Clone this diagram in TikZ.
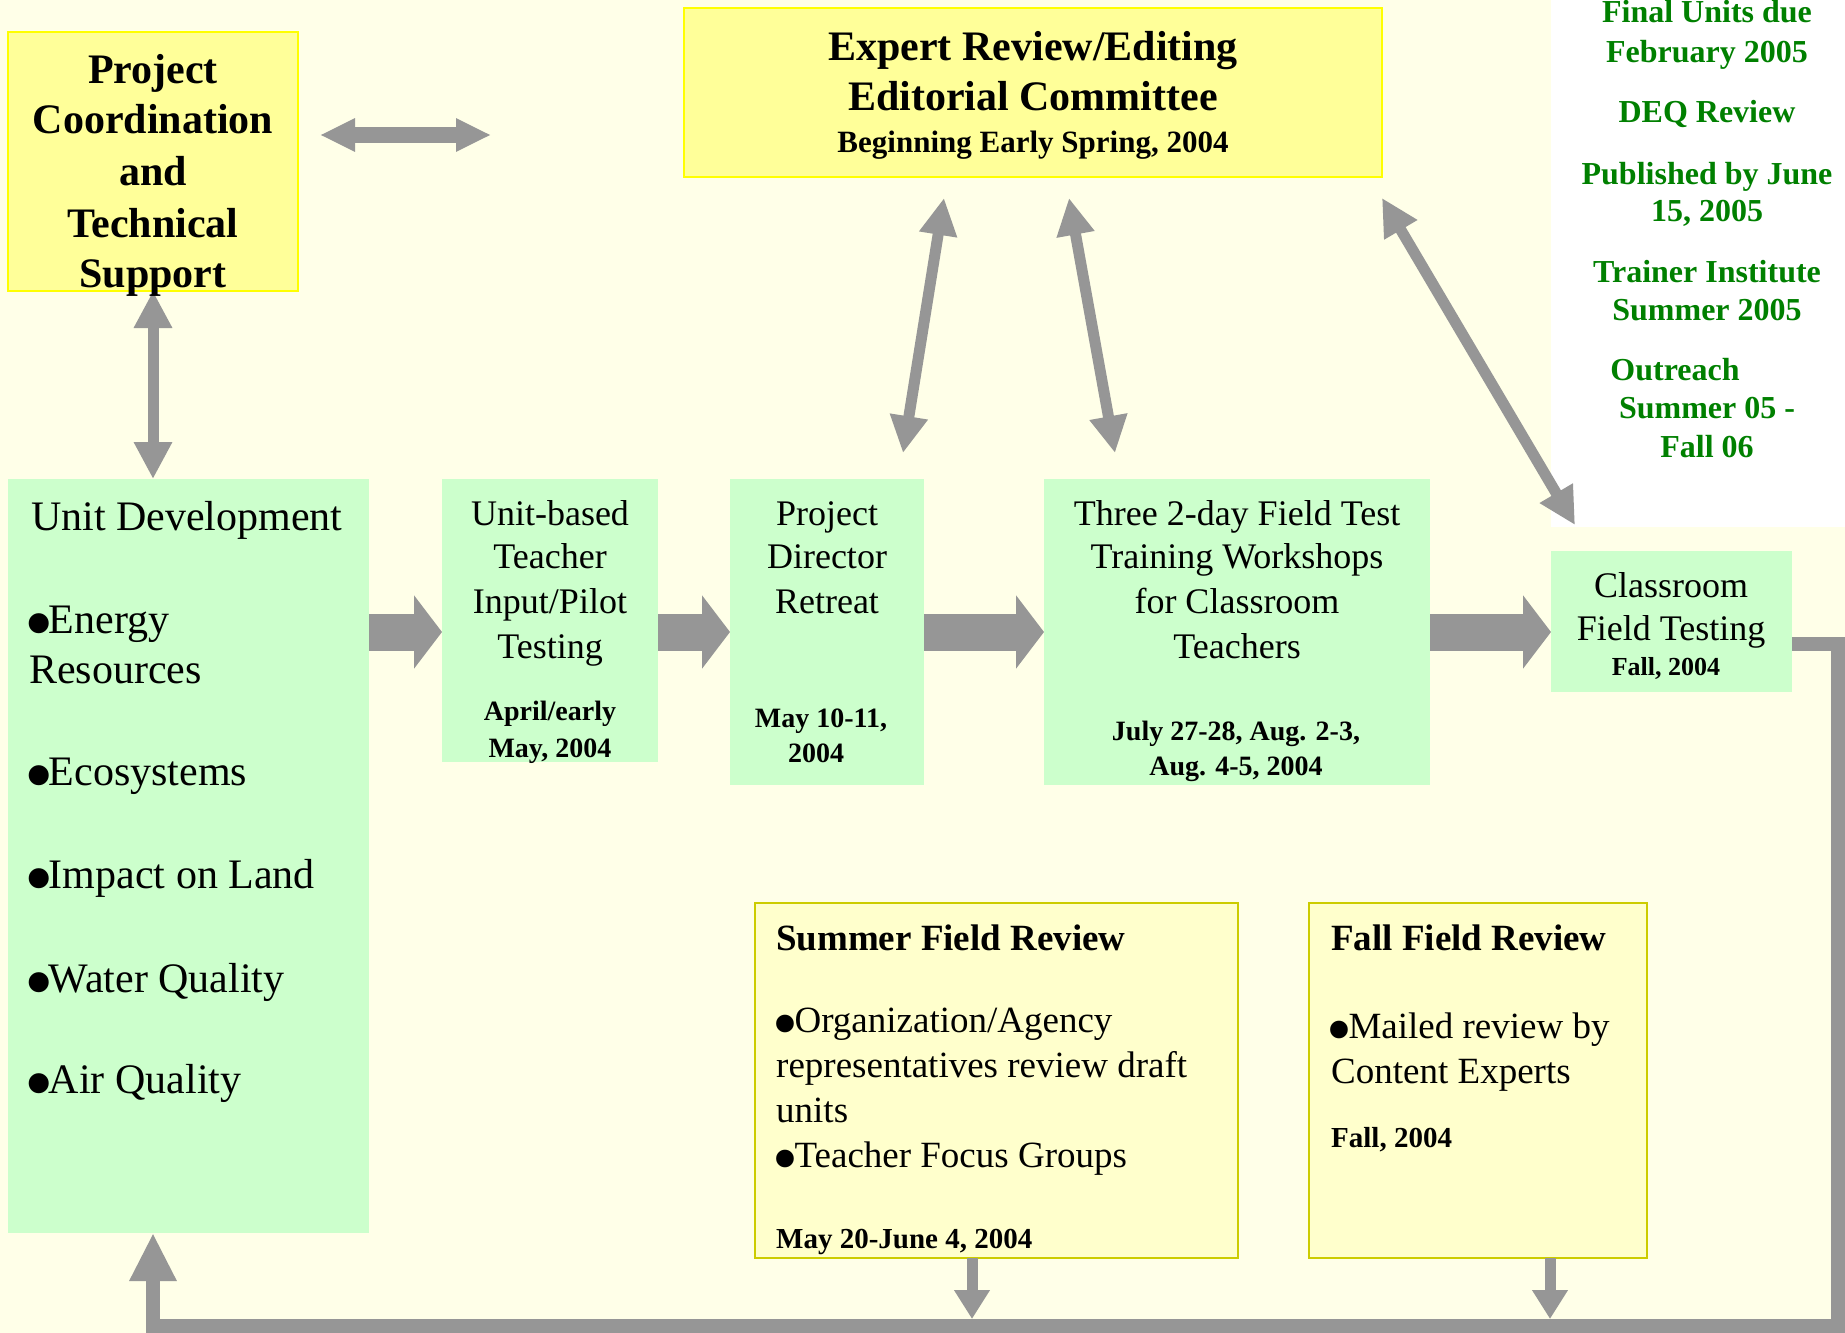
\documentclass[tikz,border=0pt]{standalone}
\usepackage{graphicx}
\usepackage{fontspec}
\setmainfont{Liberation Serif}
\usetikzlibrary{arrows.meta}
\definecolor{bg}{HTML}{FFFFE8}
\definecolor{ybox}{HTML}{FFFF99}
\definecolor{yline}{HTML}{FFFF00}
\definecolor{gbox}{HTML}{CCFFCC}
\definecolor{lybox}{HTML}{FFFFCC}
\definecolor{lyline}{HTML}{CCCC00}
\definecolor{arr}{HTML}{969696}
\definecolor{gtext}{HTML}{008000}
\newcommand\bigbul{\makebox[0.47em][l]{\hspace{-0.12em}\smash{\raisebox{-0.44em}{\scalebox{2}{•}}}}}
\begin{document}
\begin{tikzpicture}[x=1pt,y=-1pt,
  boxbase/.style={anchor=north west, inner sep=0pt, outer sep=0pt},
  ybx/.style={boxbase, fill=ybox, draw=yline, line width=2pt},
  gbx/.style={boxbase, fill=gbox},
  lybx/.style={boxbase, fill=lybox, draw=lyline, line width=2.5pt},
  tc/.style={inner sep=0pt, anchor=base},
  tl/.style={inner sep=0pt, anchor=base west},
  fbig/.style={font=\fontsize{42}{50}\selectfont\bfseries},
  fexp/.style={font=\fontsize{31}{37}\selectfont\bfseries},
  freg/.style={font=\fontsize{42}{50}\selectfont},
  fmid/.style={font=\fontsize{36}{43}\selectfont},
  fdate/.style={font=\fontsize{28}{34}\selectfont\bfseries},
  fcdate/.style={font=\fontsize{26}{31}\selectfont\bfseries},
  frev/.style={font=\fontsize{37}{44}\selectfont},
  frevb/.style={font=\fontsize{37}{44}\selectfont\bfseries},
  frevd/.style={font=\fontsize{29}{35}\selectfont\bfseries},
  fgreen/.style={font=\fontsize{32}{38}\selectfont\bfseries, text=gtext},
  bigarr/.style={draw=arr, line width=37pt, -{Triangle[length=28pt,width=72pt]}},
  harr/.style={draw=arr, line width=16pt, {Triangle[length=35pt,width=31pt]}-{Triangle[length=35pt,width=31pt]}},
  dblarr/.style={draw=arr, line width=11pt, {Triangle[length=37pt,width=36pt]}-{Triangle[length=37pt,width=36pt]}},
  looparr/.style={draw=arr, line width=14pt, line join=miter, -{Triangle[length=48pt,width=44pt]}},
  downarr/.style={draw=arr, line width=11pt, -{Triangle[length=29pt,width=34pt]}}
]
\fill[bg] (0,0) rectangle (1845,1333);
\fill[white] (1551,0) rectangle (1845,527);
\useasboundingbox (0,0) rectangle (1845,1333);

% boxes
\node[ybx, minimum width=290pt, minimum height=259pt] (proj) at (8,32) {};
\node[ybx, minimum width=698pt, minimum height=169pt] (expert) at (684,8) {};
\node[gbx, minimum width=361pt, minimum height=754pt] (unitdev) at (8,479) {};
\node[gbx, minimum width=216pt, minimum height=283pt] (unitbased) at (442,479) {};
\node[gbx, minimum width=194pt, minimum height=306pt] (director) at (730,479) {};
\node[gbx, minimum width=386pt, minimum height=306pt] (three) at (1044,479) {};
\node[gbx, minimum width=241pt, minimum height=141pt] (classroom) at (1551,551) {};
\node[lybx, minimum width=483pt, minimum height=355pt] (summer) at (755,903) {};
\node[lybx, minimum width=338pt, minimum height=355pt] (fall) at (1309,903) {};

% coordinates for free ends
\coordinate (row) at (0,632);
\coordinate (pa) at (320,135);
\coordinate (pb) at (491,135);
\coordinate (ea1) at (944,198);
\coordinate (da1) at (903,453);
\coordinate (ea2) at (1069,198);
\coordinate (da2) at (1115,453);
\coordinate (ea3) at (1382,198);
\coordinate (ca3) at (1575,525);
\coordinate (lr) at (1838,644);
\coordinate (lb) at (1838,1326);
\coordinate (ll) at (153,1326);
\coordinate (sx) at (972,1319);
\coordinate (fx) at (1550,1319);

% connectors
\draw[bigarr] (unitdev.east |- row) -- (unitbased.west |- row);
\draw[bigarr] (unitbased.east |- row) -- (director.west |- row);
\draw[bigarr] (director.east |- row) -- (three.west |- row);
\draw[bigarr] (three.east |- row) -- (classroom.west |- row);
\draw[harr] (pa) -- (pb);
\draw[dblarr] (proj.south) -- (proj.south |- unitdev.north);
\draw[dblarr] (ea1) -- (da1);
\draw[dblarr] (ea2) -- (da2);
\draw[dblarr] (ea3) -- (ca3);
\draw[looparr] (classroom.east |- lr) -- (lr) -- (lb) -- (ll) -- (ll |- unitdev.south);
\draw[downarr] (summer.south -| sx) -- (sx);
\draw[downarr] (fall.south -| fx) -- (fx);

% Project Coordination text
\node[tc, fbig] (p1) at (153,83) {Project};
\node[tc, fbig] (p2) at (153,133) {Coordination};
\node[tc, fbig] (p3) at (153,185) {and};
\node[tc, fbig] (p4) at (153,237) {Technical};
\node[tc, fbig] (p5) at (153,287) {Support};

% Expert text
\node[tc, fbig] (e1) at (1033,60) {Expert Review/Editing};
\node[tc, fbig] (e2) at (1033,110) {Editorial Committee};
\node[tc, fexp] (e3) at (1033,152) {Beginning Early Spring, 2004};

% Unit development
\node[tl, freg] (u0) at (31,530) {Unit Development};
\node[tl, freg] (u1) at (29,633) {\bigbul Energy};
\node[tl, freg] (u2) at (29,683) {Resources};
\node[tl, freg] (u3) at (29,785) {\bigbul Ecosystems};
\node[tl, freg] (u4) at (29,888) {\bigbul Impact on Land};
\node[tl, freg] (u5) at (29,992) {\bigbul Water Quality};
\node[tl, freg] (u6) at (29,1093) {\bigbul Air Quality};

% Unit-based
\node[tc, fmid] (b1) at (550,525) {Unit-based};
\node[tc, fmid] (b2) at (550,568) {Teacher};
\node[tc, fmid] (b3) at (550,613) {Input/Pilot};
\node[tc, fmid] (b4) at (550,658) {Testing};
\node[tc, fdate] (b5) at (550,720) {April/early};
\node[tc, fdate] (b6) at (550,757) {May, 2004};

% Director
\node[tc, fmid] (d1) at (827,525) {Project};
\node[tc, fmid] (d2) at (827,568) {Director};
\node[tc, fmid] (d3) at (827,613) {Retreat};
\node[tc, fdate] (d4) at (821,727) {May 10-11,};
\node[tc, fdate] (d5) at (816,762) {2004};

% Three
\node[tc, fmid] (h1) at (1237,525) {Three 2-day Field Test};
\node[tc, fmid] (h2) at (1237,568) {Training Workshops};
\node[tc, fmid] (h3) at (1237,613) {for Classroom};
\node[tc, fmid] (h4) at (1237,658) {Teachers};
\node[tc, fdate] (h5) at (1236,740) {July 27-28, Aug. 2-3,};
\node[tc, fdate] (h6) at (1236,775) {Aug. 4-5, 2004};

% Classroom
\node[tc, fmid] (c1) at (1671,597) {Classroom};
\node[tc, fmid] (c2) at (1671,640) {Field Testing};
\node[tc, fcdate] (c3) at (1666,675) {Fall, 2004};

% Summer Field Review
\node[tl, frevb] (s1) at (776,950) {Summer Field Review};
\node[tl, frev] (s2) at (777,1032) {\bigbul Organization/Agency};
\node[tl, frev] (s3) at (776,1077) {representatives review draft};
\node[tl, frev] (s4) at (776,1122) {units};
\node[tl, frev] (s5) at (777,1167) {\bigbul Teacher Focus Groups};
\node[tl, frevd] (s6) at (776,1248) {May 20-June 4, 2004};

% Fall Field Review
\node[tl, frevb] (f1) at (1331,950) {Fall Field Review};
\node[tl, frev] (f2) at (1331,1038) {\bigbul Mailed review by};
\node[tl, frev] (f3) at (1331,1083) {Content Experts};
\node[tl, frevd] (f4) at (1331,1147) {Fall, 2004};

% Green timeline text
\node[tc, fgreen] (g1) at (1707,23) {Final Units due};
\node[tc, fgreen] (g2) at (1707,62) {February 2005};
\node[tc, fgreen] (g3) at (1707,122) {DEQ Review};
\node[tc, fgreen] (g4) at (1707,184) {Published by June};
\node[tc, fgreen] (g5) at (1707,221) {15, 2005};
\node[tc, fgreen] (g6) at (1707,282) {Trainer Institute};
\node[tc, fgreen] (g7) at (1707,320) {Summer 2005};
\node[tc, fgreen] (g8) at (1675,380) {Outreach};
\node[tc, fgreen] (g9) at (1707,418) {Summer 05 -};
\node[tc, fgreen] (g10) at (1707,457) {Fall 06};
\end{tikzpicture}
\end{document}
